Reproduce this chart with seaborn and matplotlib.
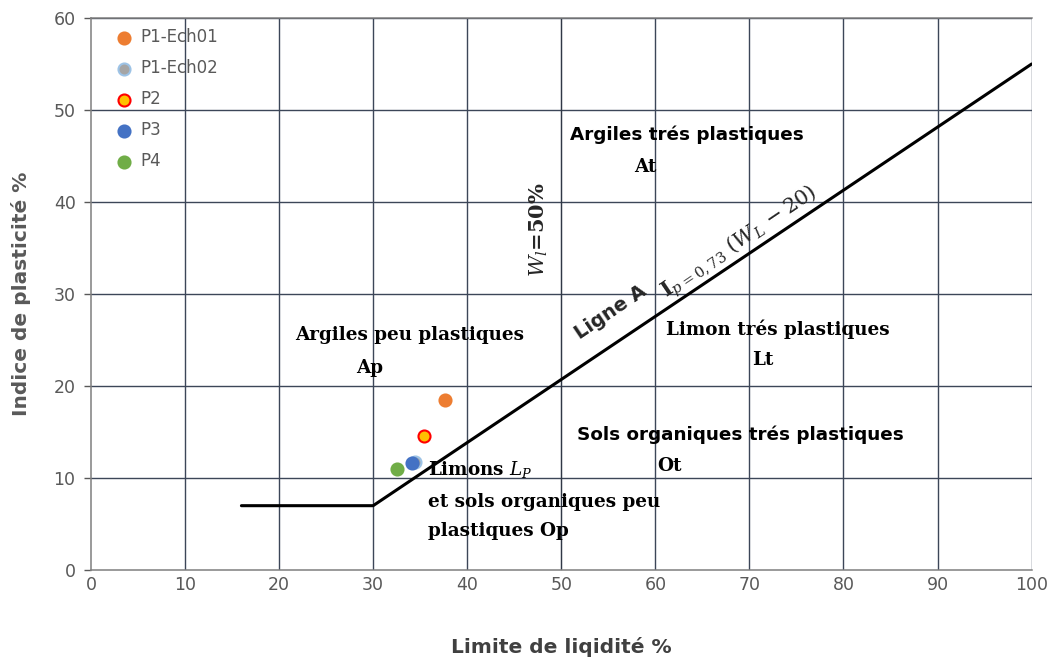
import matplotlib
matplotlib.use("Agg")
import matplotlib.pyplot as plt
import seaborn as sns
import pandas as pd

# Data
names = ["P1-Ech01", "P1-Ech02", "P2", "P3", "P4"]
wl = [37.6, 34.5, 35.4, 34.1, 32.5]
ip = [18.5, 11.8, 14.6, 11.6, 11.0]
face_colors = ["#ED7D31", "#A5A5A5", "#FFC000", "#4472C4", "#70AD47"]
edge_colors = ["#ED7D31", "#9DC3E6", "#FF0000", "#4472C4", "#70AD47"]

aline_x = [16, 30, 100]
aline_y = [7, 7, 55]
wl50_x = [50, 50]
wl50_y = [0, 60]

x_ticks = list(range(0, 101, 10))
y_ticks = list(range(0, 61, 10))

sns.set_style("white")
plt.rcParams["mathtext.fontset"] = "dejavuserif"
fig = plt.figure(figsize=(10.57, 6.66), dpi=100)
ax = fig.add_axes([0.086, 0.144, 0.890, 0.829])

grid_c = "#3c4658"
for v in x_ticks[1:]:
    ax.axvline(v, color=grid_c, lw=1.0, zorder=0)
for v in y_ticks[1:]:
    ax.axhline(v, color=grid_c, lw=1.0, zorder=0)

sns.lineplot(x=aline_x, y=aline_y, ax=ax, color="black", lw=2.2, sort=False, zorder=3)
sns.lineplot(x=wl50_x, y=wl50_y, ax=ax, color="black", lw=1.8, sort=False, zorder=3)

df = pd.DataFrame({"name": names, "wl": wl, "ip": ip})
for n, x, y, fc, ec in zip(names, wl, ip, face_colors, edge_colors):
    sns.scatterplot(x=[x], y=[y], ax=ax, color=fc, edgecolor=ec, linewidth=1.5,
                    s=75, label=n, zorder=5)

ax.set_xlim(0, 100)
ax.set_ylim(0, 60)
ax.set_xticks(x_ticks)
ax.set_yticks(y_ticks)
ax.tick_params(axis="both", labelsize=12.5, labelcolor="#595959", colors="#595959")
ax.tick_params(axis="y", length=5, width=1, direction="out", left=True, pad=6)
ax.tick_params(axis="x", length=0, pad=4)
for s in ["left", "bottom", "top"]:
    ax.spines[s].set_color("#7f7f7f")
    ax.spines[s].set_linewidth(1.1)
ax.spines["right"].set_visible(False)

ax.set_xlabel("Limite de liqidité %", fontsize=14.5, fontweight="bold", color="#404040", labelpad=31)
ax.set_ylabel("Indice de plasticité %", fontsize=14.5, fontweight="bold", color="#595959", labelpad=16)

leg = ax.legend(loc="upper left", frameon=False, fontsize=12, handletextpad=0.0,
                labelspacing=0.78, borderaxespad=0.2, markerscale=1.0, bbox_to_anchor=(0.007, 1.0))
for t in leg.get_texts():
    t.set_color("#595959")

serif = "DejaVu Serif"
sans = "DejaVu Sans"
kw = dict(fontsize=13.2, fontweight="bold", color="black", zorder=6)
kws = dict(fontsize=13.2, fontweight="bold", color="black", zorder=6)

ax.text(63.4, 47.3, "Argiles trés plastiques", ha="center", va="center", family=sans, **kws)
ax.text(58.9, 43.8, "At", ha="center", va="center", family=serif, **kw)
ax.text(47.6, 37, r"$\mathbf{\mathit{W}_{\mathit{l}}}$=50%", ha="center", va="center",
        rotation=90, family=serif, fontsize=15, fontweight="bold", zorder=6)
ax.text(55.3, 28.0, "Ligne A", ha="center", va="center", rotation=34, family=sans,
        fontsize=14, fontweight="bold", zorder=6)
ax.text(69.0, 35.6, r"$\mathbf{I}_{p=0,73}\ (\mathit{W}_{L}\,-20)$", ha="center", va="center",
        rotation=34, family=serif, fontsize=15, zorder=6)
ax.text(73.0, 26.2, "Limon trés plastiques", ha="center", va="center", family=serif, **kw)
ax.text(71.4, 22.8, "Lt", ha="center", va="center", family=serif, **kw)
ax.text(33.9, 25.5, "Argiles peu plastiques", ha="center", va="center", family=serif, **kw)
ax.text(29.6, 22.0, "Ap", ha="center", va="center", family=serif, **kw)
ax.text(69.0, 14.7, "Sols organiques trés plastiques", ha="center", va="center", family=sans, **kws)
ax.text(61.5, 11.3, "Ot", ha="center", va="center", family=serif, **kw)
ax.text(35.8, 10.9, r"Limons $\mathbf{\mathit{L}_{\mathit{P}}}$", ha="left", va="center", family=serif, **kw)
ax.text(35.8, 7.4, "et sols organiques peu", ha="left", va="center", family=serif, **kw)
ax.text(35.8, 4.2, "plastiques Op", ha="left", va="center", family=serif, **kw)

fig.savefig("out.png", dpi=100)
